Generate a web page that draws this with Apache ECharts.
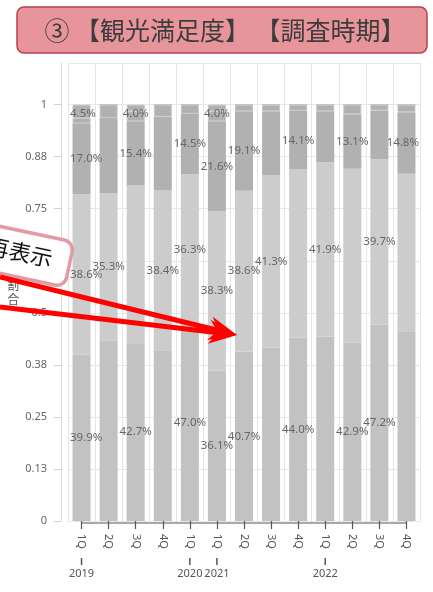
<!DOCTYPE html>
<html>
<head>
<meta charset="utf-8">
<script src="https://cdn.jsdelivr.net/npm/echarts/dist/echarts.min.js"></script>
<style>
  html, body { margin: 0; padding: 0; background: #fff; }
  #main { width: 433px; height: 592px; }
</style>
</head>
<body>
<div id="main"></div>
<script>
// ---- data ----
const periods = ['2019 1Q','2019 2Q','2019 3Q','2019 4Q','2020 1Q','2021 1Q','2021 2Q','2021 3Q','2021 4Q','2022 1Q','2022 2Q','2022 3Q','2022 4Q'];
const quarterLabels = ['1Q','2Q','3Q','4Q','1Q','1Q','2Q','3Q','4Q','1Q','2Q','3Q','4Q'];
const yearLabels = ['2019','','','','2020','2021','','','','2022','','',''];
const yTickLabels = { 0: '0', 0.125: '0.13', 0.25: '0.25', 0.375: '0.38', 0.5: '0.5', 0.625: '0.63', 0.75: '0.75', 0.875: '0.88', 1: '1' };

// percentages, bottom -> top of each bar
const manzoku      = [39.9, 43.4, 42.7, 41.0, 47.0, 36.1, 40.7, 41.7, 44.0, 44.3, 42.9, 47.2, 45.6];
const yayaManzoku  = [38.6, 35.3, 37.9, 38.4, 36.3, 38.3, 38.6, 41.3, 40.4, 41.9, 41.7, 39.7, 37.8];
const dochiramo    = [17.0, 18.1, 15.4, 17.7, 14.5, 21.6, 19.1, 15.4, 14.1, 12.2, 13.1, 11.7, 14.8];
const yayaFuman    = [1.3, 3.2, 2.4, 2.9, 2.2, 2.4, 1.6, 1.6, 1.5, 1.6, 2.3, 1.4, 1.8];
const fuman        = [3.2, 0, 1.6, 0, 0, 1.6, 0, 0, 0, 0, 0, 0, 0];

// which segments carry a value label in the picture
const showManzoku     = [1,0,1,0,1,1,1,0,1,0,1,1,0];
const showYayaManzoku = [1,1,0,1,1,1,1,1,0,1,0,1,0];
const showDochiramo   = [1,0,1,0,1,1,1,0,1,0,1,0,1];
const showTop         = [1,0,1,0,0,1,0,0,0,0,0,0,0];

// ---- chart ----
const chart = echarts.init(document.getElementById('main'));
const FONT = '"Noto Sans", "Noto Sans CJK JP", sans-serif';
const labelBase = { color: '#666666', fontSize: 11.5, fontFamily: FONT };

function seg(name, vals, color, flags, extra) {
  return Object.assign({
    name: name,
    type: 'bar',
    stack: 'total',
    barWidth: 18,
    silent: true,
    data: vals.map(v => v / 100),
    itemStyle: { color: color },
    label: Object.assign({
      show: true,
      position: 'inside',
      formatter: p => flags[p.dataIndex] ? vals[p.dataIndex].toFixed(1) + '%' : ''
    }, labelBase)
  }, extra || {});
}

const GRID = { left: 68, right: 13, top: 63, bottom: 71 };

const option = {
  animation: false,
  backgroundColor: '#ffffff',
  textStyle: { fontFamily: FONT },
  grid: GRID,
  // keep value labels inside the plot area, as in the picture
  labelLayout: function (params) {
    const r = params.labelRect;
    const lo = GRID.left + 2, hi = 433 - GRID.right - 1;
    if (r.x < lo) return { x: lo, y: r.y, align: 'left', verticalAlign: 'top' };
    if (r.x + r.width > hi) return { x: hi - r.width, y: r.y, align: 'left', verticalAlign: 'top' };
    return {};
  },
  xAxis: [{
    type: 'category',
    data: periods,
    offset: 2,
    axisLine: { show: false },
    axisTick: { show: true, alignWithLabel: true, length: 8, lineStyle: { color: '#555', width: 1.2 } },
    axisLabel: { interval: 0, rotate: -90, margin: 11, color: '#555', fontSize: 11, formatter: (v, i) => quarterLabels[i] },
    splitLine: { show: true, lineStyle: { color: '#e6e6e6' } }
  }, {
    type: 'category',
    data: periods,
    position: 'bottom',
    offset: 0,
    axisLine: { show: false },
    axisTick: { show: false },
    splitLine: { show: false },
    axisLabel: {
      interval: 0, margin: 37, color: '#555', fontSize: 11,
      formatter: (v, i) => yearLabels[i] ? '{b|}\n{y|' + yearLabels[i] + '}' : '',
      rich: {
        b: { width: 1.5, height: 7, backgroundColor: '#555' },
        y: { fontSize: 11, color: '#555', lineHeight: 18, fontFamily: FONT }
      }
    }
  }],
  yAxis: {
    type: 'value',
    min: 0, max: 1.1, interval: 0.125,
    offset: 7,
    name: '割\n合',
    nameLocation: 'middle',
    nameRotate: 0,
    nameGap: 33,
    nameTextStyle: { color: '#555', fontSize: 12, lineHeight: 14, fontFamily: '"Noto Sans CJK JP", sans-serif' },
    axisLine: { show: true, lineStyle: { color: '#d9d9d9' } },
    axisTick: { show: true, length: 7, lineStyle: { color: '#d0d0d0' } },
    axisLabel: { margin: 14, color: '#666', fontSize: 11, showMaxLabel: false,
      formatter: v => (yTickLabels[v] !== undefined ? yTickLabels[v] : '') },
    splitLine: { lineStyle: { color: '#e8e8e8' } }
  },
  series: [
    seg('満足', manzoku, '#c2c2c2', showManzoku),
    seg('やや満足', yayaManzoku, '#cccccc', showYayaManzoku),
    seg('どちらでもない', dochiramo, '#b1b1b1', showDochiramo),
    seg('やや不満', yayaFuman, '#b1b1b1', showTop.map(() => 0), { itemStyle: { color: '#b1b1b1', borderColor: '#c6c6c6', borderWidth: 1 } }),
    seg('不満', fuman, '#b1b1b1', showTop, {
      itemStyle: { color: '#b1b1b1', borderColor: '#c6c6c6', borderWidth: 1 },
      label: Object.assign({
        show: true, position: 'insideTop', distance: 3,
        formatter: p => showTop[p.dataIndex] ? (yayaFuman[p.dataIndex] + fuman[p.dataIndex]).toFixed(1) + '%' : ''
      }, labelBase)
    })
  ]
};
chart.setOption(option);

// x-axis base line spanning first to last category, via the chart's own scales
const xa = chart.convertToPixel({ xAxisIndex: 0 }, periods[0]);
const xb = chart.convertToPixel({ xAxisIndex: 0 }, periods[periods.length - 1]);
const y0 = chart.convertToPixel({ yAxisIndex: 0 }, 0) + 2;

// red annotation arrows
function arrow(sx, sy, tx, ty) {
  const dx = tx - sx, dy = ty - sy, L = Math.hypot(dx, dy);
  const ux = dx / L, uy = dy / L, nx = -uy, ny = ux;
  const hl = 28, hw = 12, notch = 19;
  const bx = tx - hl * ux, by = ty - hl * uy;
  const kx = tx - notch * ux, ky = ty - notch * uy;
  return [{
    type: 'polyline', z: 200,
    shape: { points: [[sx, sy], [kx, ky]] },
    style: { stroke: '#ff0000', lineWidth: 5, fill: null }
  }, {
    type: 'polygon', z: 201,
    shape: { points: [[tx, ty], [bx + hw * nx, by + hw * ny], [kx, ky], [bx - hw * nx, by - hw * ny]] },
    style: { fill: '#ff0000' }
  }];
}

chart.setOption({
  graphic: [
    { type: 'line', z: 50, shape: { x1: xa, y1: y0, x2: xb, y2: y0 }, style: { stroke: '#555', lineWidth: 1.2 } },
    // title box
    { type: 'rect', z: 100, shape: { x: 17, y: 7, width: 410, height: 46, r: 7 },
      style: { fill: '#e8949b', stroke: '#b8404e', lineWidth: 1.5 } },
    { type: 'text', z: 101, x: 225, y: 30,
      style: { text: '③ 【観光満足度】 【調査時期】', font: '25px "Noto Sans CJK JP"', fill: '#3c3c3c', align: 'center', verticalAlign: 'middle' } },
    // callout
    { type: 'group', z: 150, x: -4, y: 249, rotation: -12 * Math.PI / 180,
      children: [
        { type: 'rect', z: 150, shape: { x: -75, y: -23, width: 150, height: 46, r: 10 },
          style: { fill: '#ffffff', stroke: '#e39aa4', lineWidth: 3.5 } },
        { type: 'text', z: 151, x: 24, y: -2,
          style: { text: '再表示', font: '22px "Noto Sans CJK JP"', fill: '#111', align: 'center', verticalAlign: 'middle' } }
      ] }
  ].concat(arrow(0, 277, 237, 335), arrow(0, 307, 237, 335))
});
</script>
</body>
</html>
